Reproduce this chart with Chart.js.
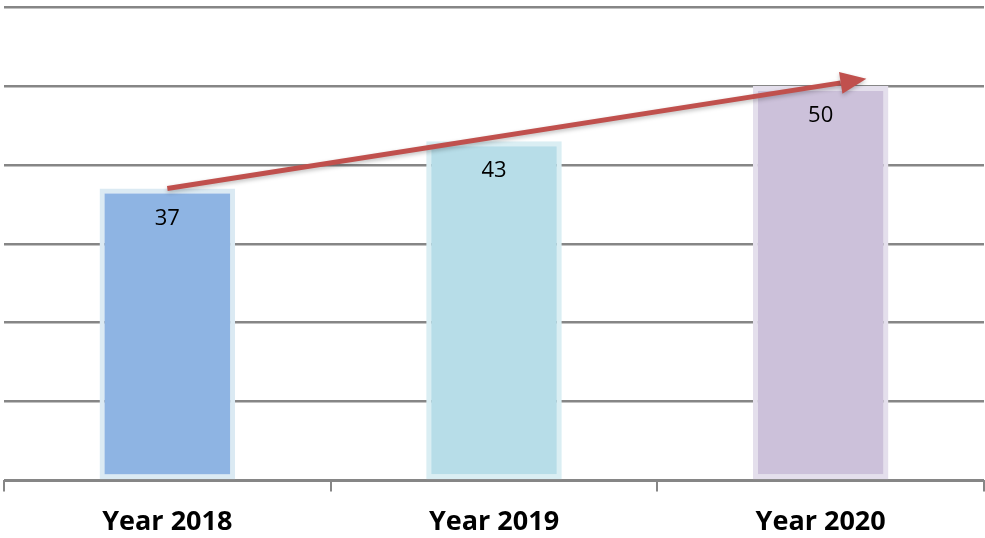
<!DOCTYPE html>
<html>
<head>
<meta charset="utf-8">
<script src="https://cdn.jsdelivr.net/npm/chart.js@4.4.1/dist/chart.umd.min.js"></script>
<style>
  html, body { margin: 0; padding: 0; background: #fff; }
  #wrap { width: 985px; height: 538px; }
</style>
</head>
<body>
<div id="wrap"><canvas id="chart"></canvas></div>
<script>
// chart data
const years = ["Year 2018", "Year 2019", "Year 2020"];
const counts = [37, 43, 50];
const fillColors = ["#8eb4e3", "#b7dde8", "#ccc1da"];
const edgeColors = ["#dbeaf3", "#daeef3", "#e4dfec"];
// trend arrow, in data space: [category index, value]
const arrowFrom = [0, 37];
const arrowTo = [2.14, 50.9];

const valueLabels = {
  id: "valueLabels",
  afterDatasetsDraw(chart) {
    const { ctx } = chart;
    const meta = chart.getDatasetMeta(0);
    ctx.save();
    ctx.font = "22px 'Open Sans'";
    ctx.fillStyle = "#000";
    ctx.textAlign = "center";
    ctx.textBaseline = "middle";
    meta.data.forEach((bar, i) => {
      ctx.fillText(String(counts[i]), bar.x, bar.y + 30);
    });
    ctx.restore();
  }
};

const trendArrow = {
  id: "trendArrow",
  afterDatasetsDraw(chart) {
    const { ctx, scales: { x, y } } = chart;
    const x0 = x.getPixelForValue(arrowFrom[0]);
    const y0 = y.getPixelForValue(arrowFrom[1]);
    const x1 = x.getPixelForValue(arrowTo[0]);
    const y1 = y.getPixelForValue(arrowTo[1]);
    const ang = Math.atan2(y1 - y0, x1 - x0);
    const headLen = 26, headW = 11;
    const bx = x1 - headLen * Math.cos(ang);
    const by = y1 - headLen * Math.sin(ang);
    ctx.save();
    ctx.shadowColor = "rgba(0,0,0,0.25)";
    ctx.shadowBlur = 4;
    ctx.shadowOffsetY = 2;
    ctx.strokeStyle = "#c0504d";
    ctx.fillStyle = "#c0504d";
    ctx.lineWidth = 5;
    ctx.beginPath();
    ctx.moveTo(x0, y0);
    ctx.lineTo(bx, by);
    ctx.stroke();
    ctx.beginPath();
    ctx.moveTo(x1, y1);
    ctx.lineTo(bx + headW * Math.sin(ang), by - headW * Math.cos(ang));
    ctx.lineTo(bx - headW * Math.sin(ang), by + headW * Math.cos(ang));
    ctx.closePath();
    ctx.fill();
    ctx.restore();
  }
};

new Chart(document.getElementById("chart"), {
  type: "bar",
  data: {
    labels: years,
    datasets: [{
      data: counts,
      backgroundColor: fillColors,
      borderColor: edgeColors,
      borderWidth: 5,
      borderSkipped: false,
      barPercentage: 0.415,
      categoryPercentage: 1
    }]
  },
  options: {
    responsive: true,
    maintainAspectRatio: false,
    animation: false,
    layout: { padding: { left: 4, right: 1, top: 7, bottom: -16 } },
    plugins: { legend: { display: false }, tooltip: { enabled: false } },
    scales: {
      x: {
        offset: true,
        grid: {
          display: true,
          offset: true,
          drawOnChartArea: false,
          drawTicks: true,
          tickLength: 11,
          color: "#868686",
          lineWidth: 2
        },
        border: { display: true, color: "#868686", width: 2 },
        ticks: {
          color: "#000",
          padding: 15,
          font: { family: "'Open Sans'", size: 27, weight: "bold" }
        }
      },
      y: {
        min: 0,
        max: 60,
        ticks: { stepSize: 10, display: false },
        grid: { color: "#868686", lineWidth: 2.5, drawTicks: false },
        border: { display: false }
      }
    }
  },
  plugins: [valueLabels, trendArrow]
});
</script>
</body>
</html>
